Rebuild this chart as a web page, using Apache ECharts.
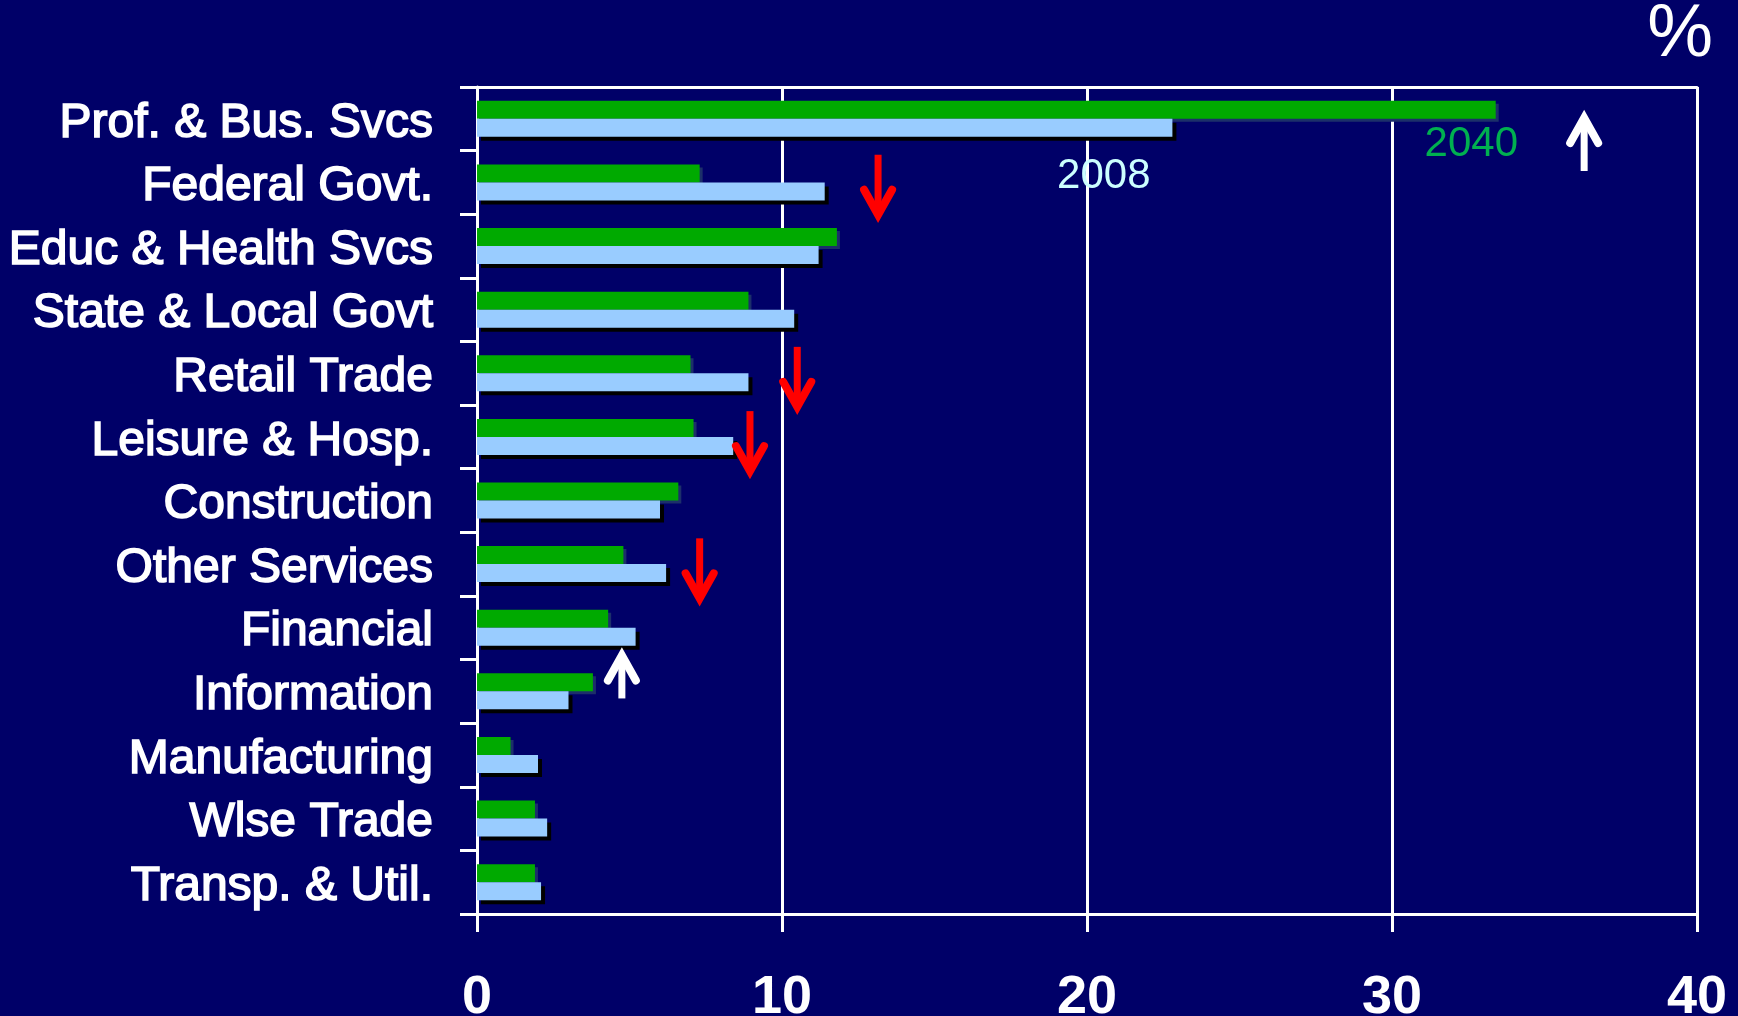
<!DOCTYPE html>
<html>
<head>
<meta charset="utf-8">
<title>Employment shares 2008 vs 2040</title>
<script src="https://cdn.jsdelivr.net/npm/echarts@6/dist/echarts.min.js"></script>
<style>
  html, body { margin: 0; padding: 0; background: #000068; }
  #chart { width: 1738px; height: 1016px; }
</style>
</head>
<body>
<div id="chart"></div>
<script>
// categories, top to bottom
const sectors = [
  'Prof. & Bus. Svcs', 'Federal Govt.', 'Educ & Health Svcs', 'State & Local Govt',
  'Retail Trade', 'Leisure & Hosp.', 'Construction', 'Other Services',
  'Financial', 'Information', 'Manufacturing', 'Wlse Trade', 'Transp. & Util.'
];
// share of jobs, %
const share2040 = [33.4, 7.3, 11.8, 8.9, 7.0, 7.1, 6.6, 4.8, 4.3, 3.8, 1.1, 1.9, 1.9];
const share2008 = [22.8, 11.4, 11.2, 10.4, 8.9, 8.4, 6.0, 6.2, 5.2, 3.0, 2.0, 2.3, 2.1];
const xTicks = [0, 10, 20, 30, 40];

// arrows: [value, category index, shift within band, direction (1 up, -1 down)]
const arrows = [
  [36.3, 0, 0.38, 1],
  [13.15, 1, 0.06, -1],
  [10.5, 4, 0.08, -1],
  [8.95, 5, 0.09, -1],
  [7.3, 7, 0.09, -1],
  [4.75, 8, 0.75, 1]
];
// series year labels: [value, category index, shift within band]
const yearNotes = [
  [32.6, 0, 0.4],
  [20.55, 1, -0.1]
];
const yearNames = ['2040', '2008'];
const yearColors = ['#00b050', '#ccffff'];

const FONT = '"Liberation Sans", Arial, sans-serif';
const chart = echarts.init(document.getElementById('chart'));

function drawArrow(params, api) {
  const p = api.coord([api.value(0), api.value(1)]);
  const band = api.size([0, 1])[1];
  const cx = p[0];
  const cy = p[1] + api.value(2) * band;
  const up = api.value(3) > 0;
  const color = up ? '#ffffff' : '#ff0000';
  const len = up ? (params.dataIndex === 0 ? 56 : 46) : 63;
  const tip = up ? cy - len / 2 : cy + len / 2;
  const tail = up ? cy + len / 2 : cy - len / 2;
  const s = up ? 1 : -1; // head opens away from tip
  return {
    type: 'group',
    children: [
      {
        type: 'line',
        shape: { x1: cx, y1: tail, x2: cx, y2: tip + s * 6 },
        style: { stroke: color, lineWidth: 7 }
      },
      {
        type: 'polyline',
        shape: { points: [[cx - 14, tip + s * 28], [cx, tip + s * 3], [cx + 14, tip + s * 28]] },
        style: { stroke: color, lineWidth: 8, lineCap: 'round', lineJoin: 'miter', fill: null }
      }
    ]
  };
}

function drawNote(params, api) {
  const p = api.coord([api.value(0), api.value(1)]);
  const band = api.size([0, 1])[1];
  return {
    type: 'text',
    x: p[0],
    y: p[1] + api.value(2) * band,
    style: {
      text: yearNames[params.dataIndex],
      fill: yearColors[params.dataIndex],
      font: 'normal 42px ' + FONT,
      align: 'center',
      verticalAlign: 'middle'
    }
  };
}

chart.setOption({
  backgroundColor: '#000068',
  animation: false,
  title: {
    text: '%',
    right: 20,
    top: -6,
    textStyle: { color: '#ffffff', fontSize: 74, fontWeight: 'normal', fontFamily: FONT }
  },
  grid: { left: 477, right: 41, top: 87, bottom: 102, containLabel: false, outerBoundsMode: 'none' },
  xAxis: [
    {
      type: 'value',
      min: xTicks[0],
      max: xTicks[xTicks.length - 1],
      interval: 10,
      axisLine: { show: true, lineStyle: { color: '#ffffff', width: 3 } },
      axisTick: { show: true, length: 18, lineStyle: { color: '#ffffff', width: 3 } },
      axisLabel: { color: '#ffffff', fontSize: 54, fontWeight: 'bold', fontFamily: FONT, margin: 57 },
      splitLine: { show: true, lineStyle: { color: '#ffffff', width: 3 } }
    },
    {
      type: 'value',
      position: 'top',
      min: xTicks[0],
      max: xTicks[xTicks.length - 1],
      axisLine: { show: true, lineStyle: { color: '#ffffff', width: 3 } },
      axisTick: { show: false },
      axisLabel: { show: false },
      splitLine: { show: false }
    }
  ],
  yAxis: {
    type: 'category',
    data: sectors,
    inverse: true,
    axisLine: { show: true, lineStyle: { color: '#ffffff', width: 3 } },
    axisTick: { show: true, inside: false, length: 17, lineStyle: { color: '#ffffff', width: 3 } },
    axisLabel: {
      formatter: '{v|{value}}',
      margin: 44,
      rich: {
        v: {
          color: '#ffffff',
          fontSize: 48,
          fontWeight: 'normal',
          fontFamily: FONT,
          textBorderColor: '#ffffff',
          textBorderWidth: 1.6,
          padding: [9, 0, 0, 0]
        }
      }
    },
    splitLine: { show: false }
  },
  series: [
    {
      name: '2040',
      type: 'bar',
      data: share2040,
      barWidth: 18,
      barGap: '0%',
      itemStyle: {
        color: '#00aa00',
        shadowColor: '#1c2f6a',
        shadowOffsetX: 3,
        shadowOffsetY: 3,
        shadowBlur: 0
      },
      z: 3
    },
    {
      name: '2008',
      type: 'bar',
      data: share2008,
      barWidth: 18,
      itemStyle: {
        color: '#99ccff',
        shadowColor: '#000000',
        shadowOffsetX: 4,
        shadowOffsetY: 4,
        shadowBlur: 0
      },
      z: 3
    },
    {
      name: 'arrows',
      type: 'custom',
      renderItem: drawArrow,
      data: arrows,
      silent: true,
      z: 5
    },
    {
      name: 'years',
      type: 'custom',
      renderItem: drawNote,
      data: yearNotes,
      silent: true,
      z: 6
    }
  ]
});
</script>
</body>
</html>
